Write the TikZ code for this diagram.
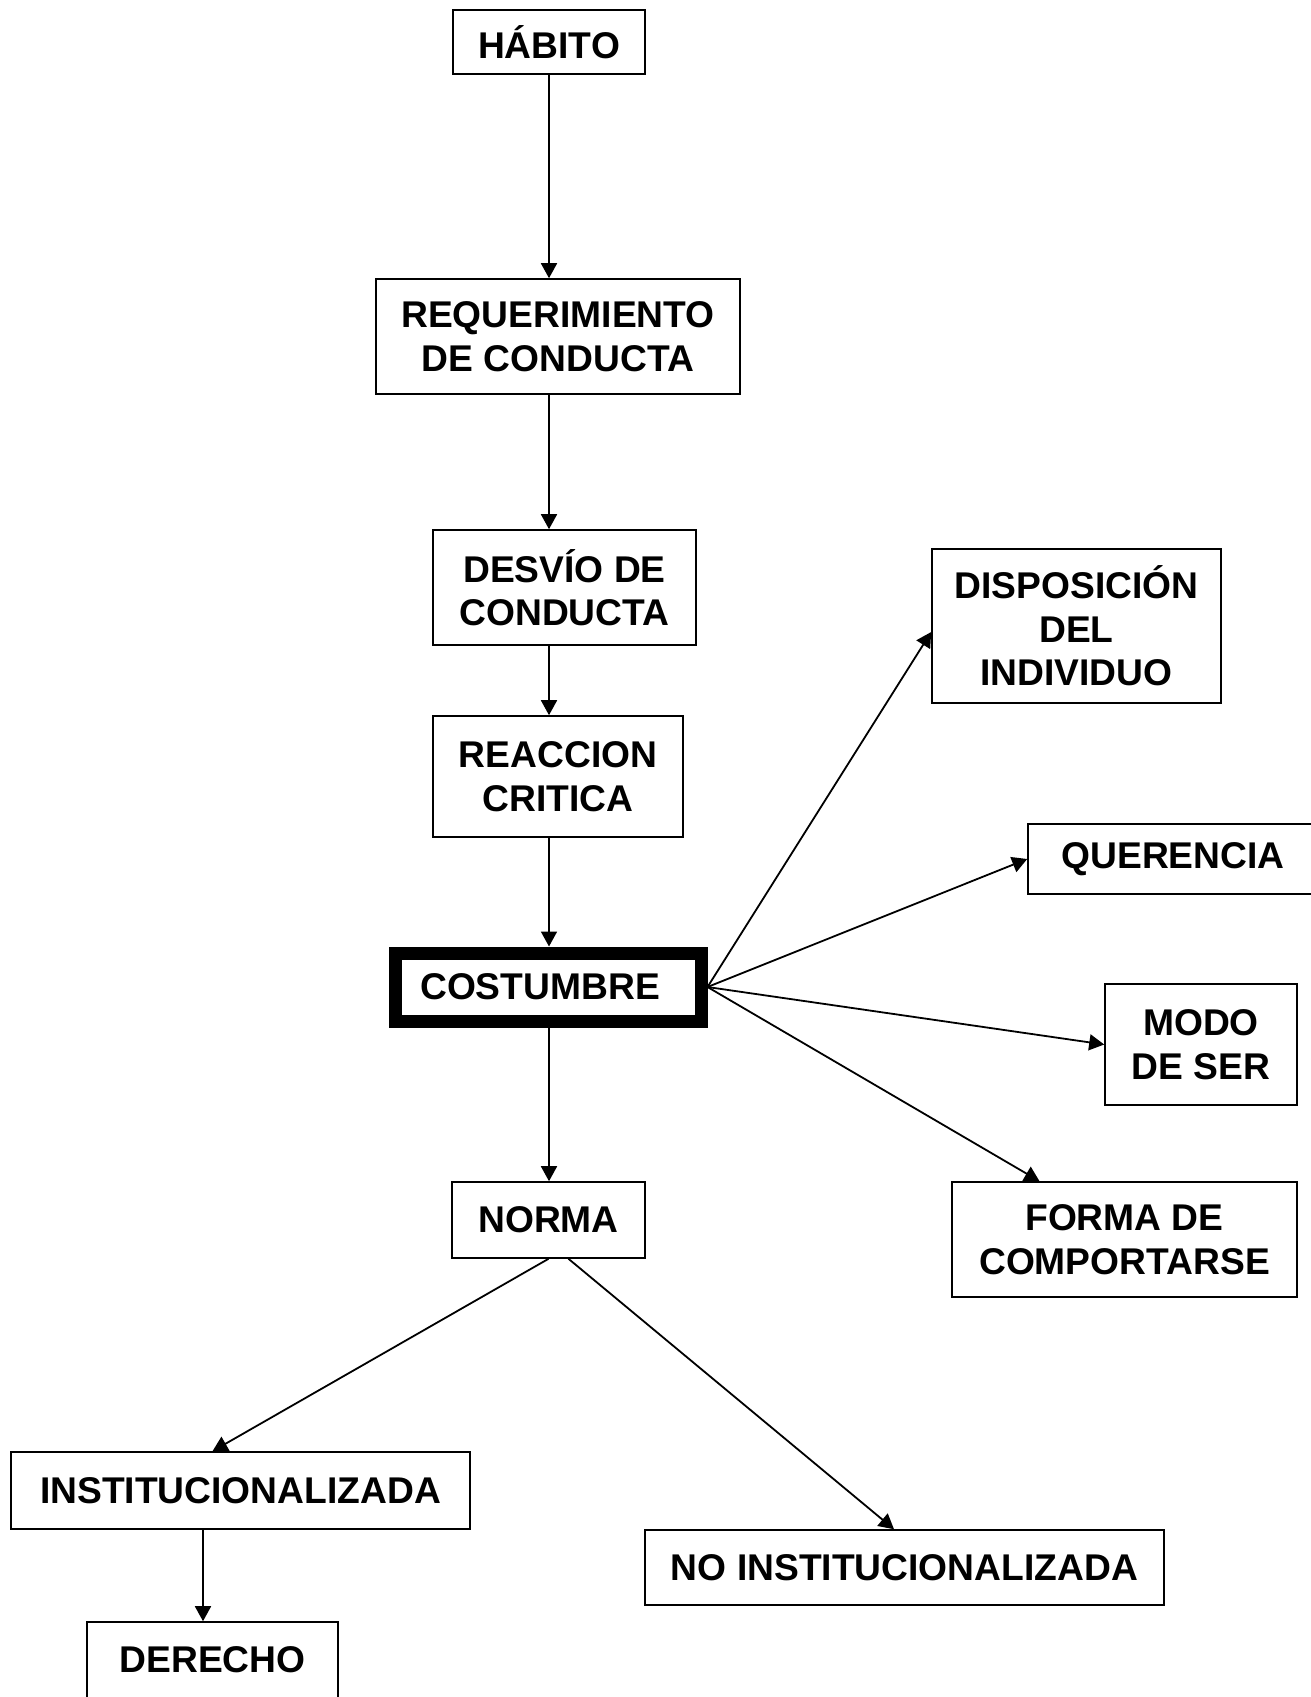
\documentclass[tikz,border=0pt]{standalone}
\usepackage{fontspec}
\setmainfont{Liberation Sans}
\usetikzlibrary{arrows.meta,positioning}

\begin{document}
\begin{tikzpicture}[
    x=0.5pt, y=-0.5pt,
    >={Triangle[length=7.5pt,width=8pt]},
    box/.style={
        rectangle,
        draw,
        line width=0.8pt,
        align=center,
        inner sep=0pt,
        font=\fontsize{18.6}{21.7}\selectfont\bfseries
    },
    bigbox/.style={box, line width=6.5pt},
    line/.style={draw, ->, line width=0.9pt}
]
\useasboundingbox (0,0) rectangle (1311,1697);

% main column
\node[box, minimum width=96pt, minimum height=32pt] (habito) at (549,42) {HÁBITO};
\node[box, minimum width=182pt, minimum height=57.5pt] (requer) at (558,336.5) {REQUERIMIENTO\\DE CONDUCTA};
\node[box, minimum width=131.5pt, minimum height=57.5pt] (desvio) at (564.5,587.5) {DESVÍO DE\\CONDUCTA};
\node[box, minimum width=125pt, minimum height=60.5pt] (reaccion) at (558,776.5) {REACCION\\CRITICA};
\node[bigbox, minimum width=153pt, minimum height=34pt] (costumbre) at (548,987) {COSTUMBRE\hspace*{8pt}};
\node[box, minimum width=96.5pt, minimum height=38pt] (norma) at (548.5,1220) {NORMA};

% right side
\node[box, minimum width=144.5pt, minimum height=77pt] (disposicion) at (1076.5,626) {DISPOSICIÓN\\DEL\\INDIVIDUO};
\node[box, minimum width=145pt, minimum height=35pt] (querencia) at (1173,859) {QUERENCIA};
\node[box, minimum width=96pt, minimum height=60.5pt] (modo) at (1201,1044.5) {MODO\\DE SER};
\node[box, minimum width=172.5pt, minimum height=57.5pt] (forma) at (1124.5,1239.5) {FORMA DE\\COMPORTARSE};

% bottom
\node[box, minimum width=229.5pt, minimum height=38.5pt] (instit) at (240.5,1490.5) {INSTITUCIONALIZADA};
\node[box, minimum width=259.5pt, minimum height=37.5pt] (noinstit) at (904.5,1567.5) {NO INSTITUCIONALIZADA};
\node[box, minimum width=125.5pt, minimum height=38pt] (derecho) at (212.5,1660) {DERECHO};

\draw[line] (habito.south) -- (habito.south |- requer.north);
\draw[line] (requer.south -| habito) -- (habito |- desvio.north);
\draw[line] (desvio.south -| habito) -- (habito |- reaccion.north);
\draw[line] (reaccion.south -| habito) -- (habito |- costumbre.north);
\draw[line] (costumbre.south -| habito) -- (habito |- norma.north);

\draw[line] (costumbre.east) -- ([yshift=-3pt]disposicion.west);
\draw[line] (costumbre.east) -- (querencia.west);
\draw[line] (costumbre.east) -- (modo.west);
\draw[line] (costumbre.east) -- ([xshift=-42.5pt]forma.north);

\draw[line] (norma.south) -- ([xshift=-14pt]instit.north);
\draw[line] ([xshift=10pt]norma.south) -- ([xshift=-5.25pt]noinstit.north);
\draw[line] ([xshift=-4.75pt]instit.south -| derecho.north) -- ([xshift=-4.75pt]derecho.north);

\end{tikzpicture}
\end{document}
